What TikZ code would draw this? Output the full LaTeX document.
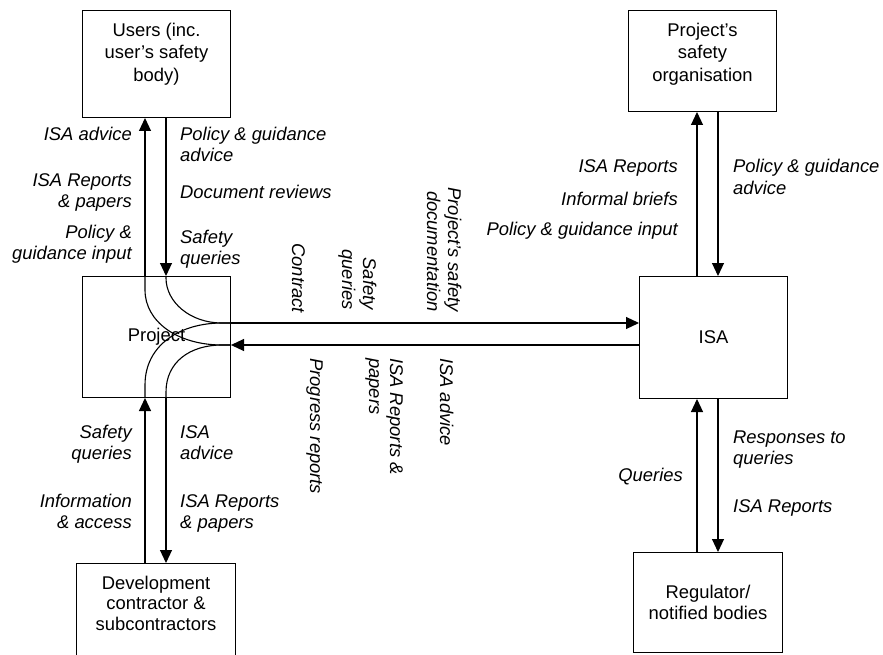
\documentclass[tikz,border=0pt]{standalone}
\usepackage{fontspec}
\setmainfont{Liberation Sans}
\usetikzlibrary{arrows.meta}
\newcommand{\rightlines}[1]{\begin{tabular}[t]{@{}r@{}}#1\end{tabular}}
\newcommand{\leftlines}[1]{\begin{tabular}[t]{@{}l@{}}#1\end{tabular}}
\newcommand{\topbox}[5]{\parbox[t][#2][t]{#1}{\centering\baselineskip=#3\relax\vspace*{#4}\rule{0pt}{14pt}#5}}
\begin{document}
\begin{tikzpicture}[x=1pt,y=-1pt,
  box/.style={draw, line width=1pt, inner sep=0pt, align=center, font=\fontsize{18.4}{21}\selectfont},
  lab/.style={inner sep=0pt, font=\fontsize{18.4}{21}\selectfont\itshape},
  arr/.style={line width=1.1pt, -{Triangle[length=13pt,width=12pt]}},
  flow/.style={line width=1.1pt}]
\useasboundingbox (0,0) rectangle (883,655);

% boxes
\node[box, anchor=north west] (users) at (82,10)
  {\topbox{148pt}{107pt}{22.5pt}{12pt}{Users (inc.\\user’s safety\\body)}};
\node[box, anchor=north west, minimum width=148pt, minimum height=121pt] (project) at (82,276) {Project};
\node[box, anchor=north west] (dev) at (76,563)
  {\topbox{159pt}{95pt}{20.5pt}{11.5pt}{Development\\contractor \&\\subcontractors}};
\node[box, anchor=north west] (pso) at (628,10)
  {\topbox{148pt}{101pt}{22.5pt}{12pt}{Project’s\\safety\\organisation}};
\node[box, anchor=north west, minimum width=148pt, minimum height=122pt] (isa) at (639,276) {ISA};
\node[box, anchor=north west, minimum width=149pt, minimum height=100pt] (reg) at (633,552) {Regulator/\\notified bodies};

% columns and rows of the connectors
\coordinate (L1) at (145,0);
\coordinate (L2) at (166,0);
\coordinate (R1) at (697,0);
\coordinate (R2) at (718,0);
\coordinate (H1) at (0,323);
\coordinate (H2) at (0,345);

% connectors
\draw[arr] (project.north -| L1) -- (users.south -| L1);
\draw[arr] (users.south -| L2) -- (project.north -| L2);
\draw[arr] (dev.north -| L1) -- (project.south -| L1);
\draw[arr] (project.south -| L2) -- (dev.north -| L2);
\draw[arr] (project.east |- H1) -- (isa.west |- H1);
\draw[arr] (isa.west |- H2) -- (project.east |- H2);
\draw[arr] (isa.north -| R1) -- (pso.south -| R1);
\draw[arr] (pso.south -| R2) -- (isa.north -| R2);
\draw[arr] (reg.north -| R1) -- (isa.south -| R1);
\draw[arr] (isa.south -| R2) -- (reg.north -| R2);

% routing curves inside the project box
\draw[flow] (project.north -| L1) -- (145,290) .. controls (145,322) and (178,345) .. (222,345) -- (project.east |- H2);
\draw[flow] (project.north -| L2) -- (166,278) .. controls (166,302) and (190,323) .. (222,323) -- (project.east |- H1);
\draw[flow] (project.south -| L1) -- (145,385) .. controls (145,345) and (180,323) .. (222,323) -- (project.east |- H1);
\draw[flow] (project.south -| L2) -- (166,392) .. controls (166,362) and (190,345) .. (222,345) -- (project.east |- H2);

% labels, users side
\node[lab, anchor=base east] (l1) at (132,141) {ISA advice};
\node[lab, anchor=base east] (l2) at (132,186) {\rightlines{ISA Reports\\\& papers}};
\node[lab, anchor=base east] (l3) at (132,238) {\rightlines{Policy \&\\guidance input}};
\node[lab, anchor=base west] (l4) at (180,141) {\leftlines{Policy \& guidance\\advice}};
\node[lab, anchor=base west] (l5) at (180,199) {Document reviews};
\node[lab, anchor=base west] (l6) at (180,243) {\leftlines{Safety\\queries}};
% labels, development side
\node[lab, anchor=base east] (l7) at (132,438) {\rightlines{Safety\\queries}};
\node[lab, anchor=base east] (l8) at (132,507) {\rightlines{Information\\\& access}};
\node[lab, anchor=base west] (l9) at (180,438) {\leftlines{ISA\\advice}};
\node[lab, anchor=base west] (l10) at (180,507) {\leftlines{ISA Reports\\\& papers}};
% rotated labels on the horizontal flows
\node[lab, rotate=-90, anchor=base east] (r1) at (292,313) {Contract};
\node[lab, rotate=-90, anchor=base east] (r2) at (363,310) {\rightlines{Safety\\queries}};
\node[lab, rotate=-90, anchor=base east] (r3) at (448,312) {\rightlines{Project’s safety\\documentation}};
\node[lab, rotate=-90, anchor=base west] (r4) at (310,358) {Progress reports};
\node[lab, rotate=-90, anchor=base west] (r5) at (390,358) {\leftlines{ISA Reports \&\\papers}};
\node[lab, rotate=-90, anchor=base west] (r6) at (440,358) {ISA advice};
% labels, right side
\node[lab, anchor=base east] (l11) at (678,173) {ISA Reports};
\node[lab, anchor=base east] (l12) at (678,205) {Informal briefs};
\node[lab, anchor=base east] (l13) at (678,236) {Policy \& guidance input};
\node[lab, anchor=base west] (l14) at (733,173) {\leftlines{Policy \& guidance\\advice}};
\node[lab, anchor=base east] (l15) at (683,481) {Queries};
\node[lab, anchor=base west] (l16) at (733,443) {\leftlines{Responses to\\queries}};
\node[lab, anchor=base west] (l17) at (733,512) {ISA Reports};
\end{tikzpicture}
\end{document}
